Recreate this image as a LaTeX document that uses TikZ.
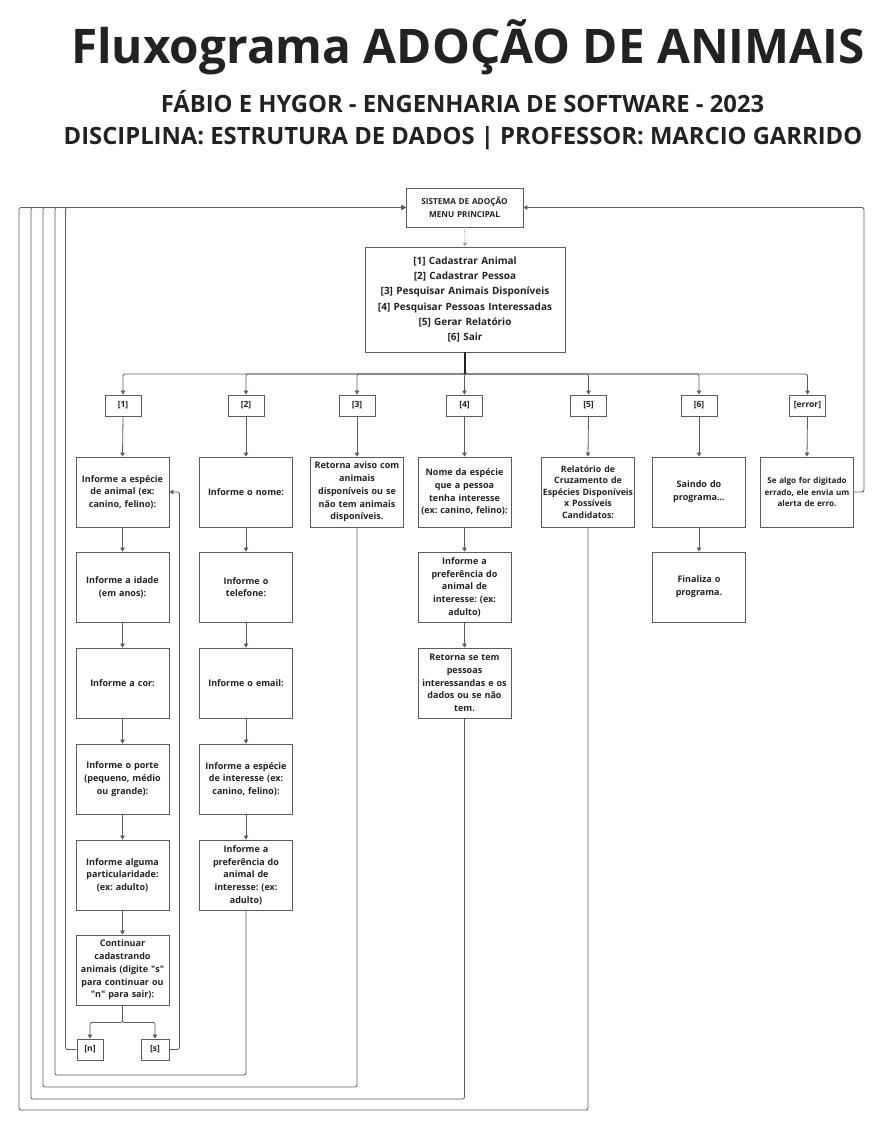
\documentclass[tikz,border=0pt]{standalone}
\usepackage{fontspec}
\setmainfont{Open Sans}
\usetikzlibrary{arrows.meta,positioning}
\definecolor{linegray}{HTML}{5C5C5C}
\definecolor{inkdark}{HTML}{222222}
\newcommand{\qt}{\textquotedbl}
\frenchspacing
\begin{document}
\begin{tikzpicture}[x=1pt, y=-1pt, every node/.style={text=inkdark},
    box/.style={draw=linegray, line width=0.9pt, fill=white, minimum width=93pt, minimum height=70pt,
        text width=93pt, align=center, inner sep=0pt, font=\bfseries\fontsize{9}{12.7}\selectfont},
    tag/.style={draw=linegray, line width=0.9pt, fill=white, minimum width=36pt, minimum height=21pt,
        inner sep=1pt, font=\bfseries\fontsize{8.5}{9}\selectfont},
    link/.style={draw=linegray, line width=0.8pt, rounded corners=2pt, -{Triangle[length=4pt,width=4.5pt]}}]
    \useasboundingbox (0,0) rectangle (886,1128);

    % Titles
    \node[anchor=base, font=\bfseries\fontsize{47.7}{50}\selectfont] (title) at (468,63) {Fluxograma ADOÇÃO DE ANIMAIS};
    \node[anchor=base, font=\bfseries\fontsize{23.8}{26}\selectfont] (authors) at (462.5,112) {FÁBIO E HYGOR - ENGENHARIA DE SOFTWARE - 2023};
    \node[anchor=base, font=\bfseries\fontsize{23.8}{26}\selectfont] (subject) at (463,144) {DISCIPLINA: ESTRUTURA DE DADOS | PROFESSOR: MARCIO GARRIDO};

    % Main menu
    \node[box, minimum width=117pt, minimum height=39pt, text width=117pt, font=\bfseries\fontsize{8.2}{12.7}\selectfont] (head) at (464.5,207.5) {SISTEMA DE ADOÇÃO\\MENU PRINCIPAL};
    \node[box, minimum width=200pt, minimum height=105pt, text width=200pt, font=\bfseries\fontsize{10}{15.2}\selectfont] (menu) at (465,299.5)
        {{[1]} Cadastrar Animal\\{[2]} Cadastrar Pessoa\\{[3]} Pesquisar Animais Disponíveis\\{[4]} Pesquisar Pessoas Interessadas\\{[5]} Gerar Relatório\\{[6]} Sair};
    \draw[link, draw=gray!70, densely dotted] (head.south) -- (menu.north);

    % Option tags
    \foreach \n/\x/\lab in {t1/123/{[1]}, t2/246/{[2]}, t3/357/{[3]}, t4/464.5/{[4]}, t5/588.5/{[5]}, t6/699/{[6]}, terr/807.5/{[error]}} {
        \node[tag] (\n) at (\x,405.5) {\lab};
        \draw[link] (menu.south) -- ++(0,21.5) -| (\n.north);
    }
    \draw[draw=inkdark, line width=1.8pt] (menu.south) -- ++(0,21.5);

    % [1] Cadastrar animal
    \node[box] (cad1) at (122.5,492) {Informe a espécie\\de animal (ex:\\canino, felino):};
    \node[box] (cad2) at (122.5,587) {Informe a idade\\(em anos):};
    \node[box] (cad3) at (122.5,683) {Informe a cor:};
    \node[box] (cad4) at (122.5,779) {Informe o porte\\(pequeno, médio\\ou grande):};
    \node[box] (cad5) at (122.5,875) {Informe alguma\\particularidade:\\(ex: adulto)};
    \node[box] (cad6) at (122.5,970) {Continuar\\cadastrando\\animais (digite \qt s\qt\\para continuar ou\\\qt n\qt{} para sair):};
    \node[tag, minimum width=26pt] (tn) at (90,1049.5) {[n]};
    \node[tag, minimum width=28pt] (ts) at (155,1049.5) {[s]};

    % [2] Cadastrar pessoa
    \node[box] (pes1) at (246,492) {Informe o nome:};
    \node[box] (pes2) at (246,587) {Informe o\\telefone:};
    \node[box] (pes3) at (246,683) {Informe o email:};
    \node[box] (pes4) at (246,779) {Informe a espécie\\de interesse (ex:\\canino, felino):};
    \node[box] (pes5) at (246,875) {Informe a\\preferência do\\animal de\\interesse: (ex:\\adulto)};

    % [3] .. [error]
    \node[box] (pesq) at (357,492) {Retorna aviso com\\animais\\disponíveis ou se\\não tem animais\\disponíveis.};
    \node[box] (int1) at (464.5,492) {Nome da espécie\\que a pessoa\\tenha interesse\\(ex: canino, felino):};
    \node[box] (int2) at (464.5,587) {Informe a\\preferência do\\animal de\\interesse: (ex:\\adulto)};
    \node[box] (int3) at (464.5,683) {Retorna se tem\\pessoas\\interessandas e os\\dados ou se não\\tem.};
    \node[box, font=\bfseries\fontsize{8.8}{11.5}\selectfont] (rel) at (588,492) {Relatório de\\Cruzamento de\\Espécies Disponíveis\\x Possíveis\\Candidatos:};
    \node[box] (sai1) at (699,492) {Saindo do\\programa...};
    \node[box] (sai2) at (699,587) {Finaliza o\\programa.};
    \node[box, font=\bfseries\fontsize{8.1}{11.2}\selectfont] (err) at (807,492) {Se algo for digitado\\errado, ele envia um\\alerta de erro.};

    % Steps down
    \foreach \a/\b in {t1/cad1, cad1/cad2, cad2/cad3, cad3/cad4, cad4/cad5, cad5/cad6,
        t2/pes1, pes1/pes2, pes2/pes3, pes3/pes4, pes4/pes5, t3/pesq,
        t4/int1, int1/int2, int2/int3, t5/rel, t6/sai1, sai1/sai2, terr/err} {
        \draw[link] (\a.south) -- (\b.north);
    }
    \draw[link] (cad6.south) -- ++(0,17) -| (tn.north);
    \draw[link] (cad6.south) -- ++(0,17) -| (ts.north);

    % Back to the menu
    \draw[link] (ts.east) -- ++(10,0) |- (cad1.east);
    \draw[link] (tn.west) -- ++(-11,0) |- (head.west);
    \draw[link] (pes5.south) |- (55,1075) |- (head.west);
    \draw[link] (pesq.south) |- (43,1087) |- (head.west);
    \draw[link] (int3.south) |- (31,1099) |- (head.west);
    \draw[link] (rel.south) |- (19,1110) |- (head.west);
    \draw[link] (err.east) -- ++(10,0) |- (head.east);
\end{tikzpicture}
\end{document}
